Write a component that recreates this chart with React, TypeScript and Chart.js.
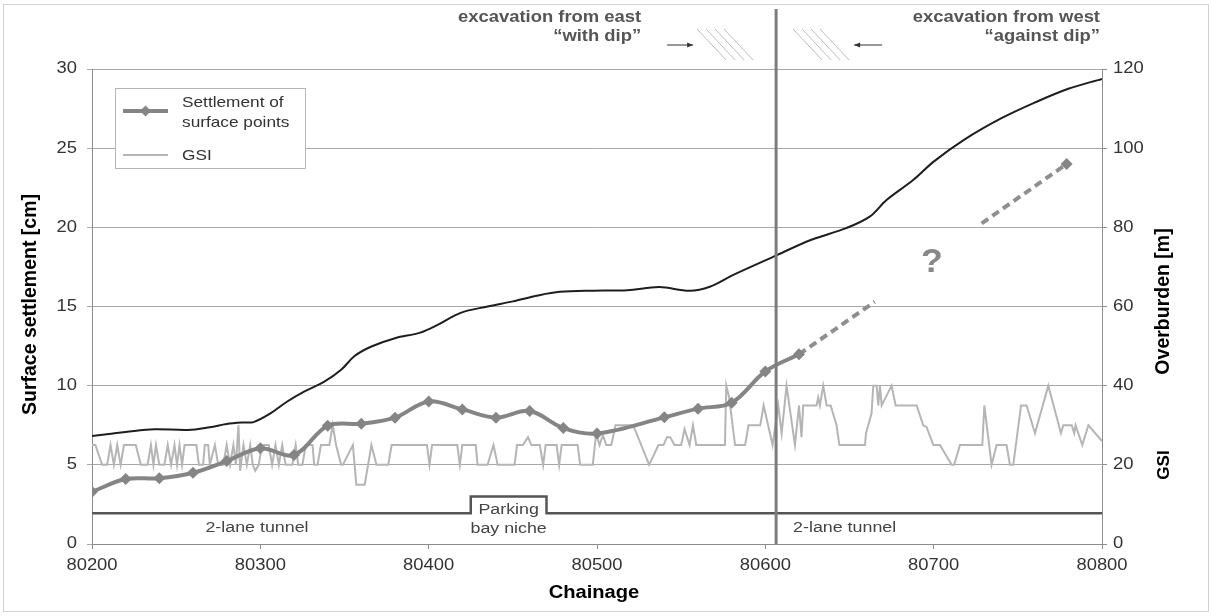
import React, { useEffect, useRef } from "react";
import { Chart, registerables } from "chart.js";

Chart.register(...registerables);

const FONT = "'Liberation Sans', Arial, Helvetica, sans-serif";
const SX = 1.15; // horizontal stretch of the reference's lettering

// ---------- data ----------
const chainageTicks = [80200, 80300, 80400, 80500, 80600, 80700, 80800];
const settlementTicks = [0, 5, 10, 15, 20, 25, 30];
const overburdenTicks = [0, 20, 40, 60, 80, 100, 120];

const settlementChainage = [
  80200, 80220, 80240, 80260, 80280, 80300, 80320, 80340, 80360, 80380, 80400,
  80420, 80440, 80460, 80480, 80500, 80540, 80560, 80580, 80600, 80620,
];
const settlementValues = [
  3.3, 4.1, 4.15, 4.5, 5.24, 6.05, 5.62, 7.47, 7.6, 7.98, 9.0, 8.5, 7.98, 8.4,
  7.32, 6.98, 8.0, 8.55, 8.92, 10.9, 11.98,
];

const trendNearChainage = [80620, 80665];
const trendNearValues = [11.98, 15.3];
const trendFarChainage = [80728.5, 80779];
const trendFarValues = [20.25, 24.0];

const overburdenChainage = [
  80200, 80210, 80220, 80237, 80257, 80270, 80280, 80290, 80296, 80306, 80316,
  80326, 80338, 80348, 80356, 80366, 80380, 80395, 80405, 80419, 80435, 80450,
  80465, 80478, 80498, 80518, 80537, 80555, 80567, 80581, 80607, 80627, 80648,
  80662, 80672, 80688, 80700, 80718, 80740, 80760, 80780, 80800,
];
const overburdenValues = [
  27.3, 27.8, 28.3, 29.0, 28.8, 29.5, 30.3, 30.7, 30.8, 33.0, 36.0, 38.5, 41.0,
  44.0, 47.5, 49.9, 52.0, 53.4, 55.3, 58.4, 60.0, 61.3, 62.8, 63.7, 64.0, 64.1,
  64.9, 64.0, 65.0, 68.0, 73.0, 76.8, 79.8, 82.7, 86.9, 92.0, 96.6, 102.1,
  107.5, 111.5, 115.0, 117.5,
];

const gsiChainage = [
  80200, 80202, 80206, 80209, 80211, 80213, 80215, 80217, 80219, 80226, 80229,
  80233, 80235, 80236.5, 80238, 80240, 80243, 80245, 80247, 80249, 80250.5,
  80252, 80253.5, 80255, 80262, 80263.5, 80266, 80267, 80269, 80270, 80273,
  80275, 80278, 80280, 80282, 80284, 80285.5, 80287, 80288, 80290, 80292,
  80294, 80295.5, 80297, 80299, 80301, 80305, 80307, 80309, 80311, 80313,
  80315, 80319, 80321, 80322.5, 80325, 80327, 80331, 80332, 80334, 80336,
  80341, 80343, 80345, 80348, 80349, 80355, 80357, 80362, 80366, 80369, 80376,
  80378, 80399, 80400.5, 80402, 80417, 80418.5, 80420, 80428, 80429, 80435,
  80438.5, 80441, 80451, 80452.5, 80456, 80459, 80461, 80466, 80468, 80469.5,
  80476, 80477.5, 80479, 80488.5, 80490, 80497.5, 80499.5, 80501.5, 80503.5,
  80505.5, 80508.5, 80511, 80521.5, 80531, 80536.5, 80539.5, 80541.5, 80543.5,
  80546, 80550, 80552, 80555, 80557, 80559, 80576, 80576.8, 80578.5, 80582,
  80588, 80590, 80597, 80599, 80604.3, 80607.7, 80609.7, 80612.6, 80617.6,
  80620, 80621.5, 80622.5, 80630.4, 80631.4, 80632.4, 80634.4, 80636.4,
  80638.8, 80642.3, 80644, 80659.2, 80659.8, 80663.1, 80664.1, 80666.1,
  80667.1, 80668.1, 80669.1, 80675, 80677.4, 80689.9, 80693.8, 80695.8,
  80699.8, 80703.7, 80710.7, 80712.2, 80715.6, 80728.9, 80730.1, 80734.4,
  80737.4, 80743.3, 80745.3, 80747.3, 80751.9, 80755.2, 80760.2, 80768.1,
  80775.6, 80777, 80782, 80783.5, 80784.3, 80788.3, 80791.9, 80800,
];
const gsiValues = [
  25, 25, 20, 20, 25, 20, 25, 20, 25, 25, 20,
  20, 25, 20, 25, 20, 20, 25, 20, 25, 20,
  25, 20, 25, 25, 20, 20, 25, 25, 20, 25,
  20, 20, 25, 20, 25, 20, 30, 18.5, 25, 20,
  25, 20, 18.5, 20, 25, 25, 20, 25, 20, 25,
  20, 20, 25, 20, 20, 25, 25, 20, 20, 25,
  25, 30, 25, 20, 20, 25, 15, 15, 25, 20, 20,
  25, 25, 20, 25, 25, 20, 25, 25, 20, 20,
  25, 20, 20, 25, 25, 27, 25, 25, 20, 25,
  25, 20, 25, 25, 20, 20, 28, 25, 27.5,
  25, 25, 30, 30, 20, 25, 25, 27, 27,
  25, 25, 29, 25, 30, 25, 25, 40, 37, 25,
  25, 30, 30, 35, 25, 35, 28, 40, 25,
  35, 27, 35, 35, 37, 35, 40, 35,
  35, 30, 25, 25, 28, 33, 40, 40,
  35, 40, 35, 40, 35, 35, 30, 29.5,
  25, 25, 20, 20, 25, 25, 35, 20,
  25, 25, 20, 20, 35, 35, 28, 40,
  28, 30, 30, 28, 30, 25, 30, 26,
];

const tunnelChainage = [80200, 80425, 80425, 80470, 80470, 80800];
const tunnelValues = [1.95, 1.95, 3.0, 3.0, 1.95, 1.95];

const dividerChainage = 80606.4;

const legendLabels = [["Settlement of", "surface points"], ["GSI"]];
const topLeftText = ["excavation from east", "\u201Cwith dip\u201D"];
const topRightText = ["excavation from west", "\u201Cagainst dip\u201D"];
const axisTitles = {
  x: "Chainage",
  left: "Surface settlement [cm]",
  right: "Overburden [m]",
  right2: "GSI",
};

const zip = (xs: number[], ys: number[]) => xs.map((x, i) => ({ x, y: ys[i] }));

function txt(
  ctx: CanvasRenderingContext2D,
  text: string,
  x: number,
  y: number,
  align: CanvasTextAlign,
  font: string,
  color: string,
  rotate = 0,
  sx = SX
) {
  ctx.save();
  ctx.font = font;
  ctx.fillStyle = color;
  ctx.textAlign = align;
  ctx.textBaseline = "middle";
  ctx.translate(x, y);
  ctx.scale(sx, 1);
  if (rotate) ctx.rotate(rotate);
  ctx.fillText(text, 0, 0);
  ctx.restore();
}

// ---------- overlay plugin ----------
const overlayPlugin = {
  id: "overlay",
  beforeDraw(chart: any) {
    const { ctx, width, height } = chart;
    ctx.save();
    ctx.fillStyle = "#ffffff";
    ctx.fillRect(0, 0, width, height);
    ctx.strokeStyle = "#d2d2d2";
    ctx.lineWidth = 1;
    ctx.strokeRect(3.5, 4.5, width - 7, height - 9);
    ctx.restore();
  },
  afterDraw(chart: any) {
    const { ctx, chartArea, scales } = chart;
    const xs = scales.x;
    const yl = scales.y;
    const yr = scales.y2;
    ctx.save();

    // tick labels
    const tickFont = `16px ${FONT}`;
    chainageTicks.forEach((v) =>
      txt(ctx, String(v), xs.getPixelForValue(v), chartArea.bottom + 22, "center", tickFont, "#333")
    );
    settlementTicks.forEach((v) =>
      txt(ctx, String(v), chartArea.left - 15, yl.getPixelForValue(v), "right", tickFont, "#333")
    );
    overburdenTicks.forEach((v) =>
      txt(ctx, String(v), chartArea.right + 11, yr.getPixelForValue(v), "left", tickFont, "#333")
    );

    // axis titles
    const titleFont = `bold 17.5px ${FONT}`;
    const midY = (chartArea.top + chartArea.bottom) / 2;
    txt(ctx, axisTitles.x, 594, chartArea.bottom + 49, "center", titleFont, "#000");
    txt(ctx, axisTitles.left, 31, midY - 2, "center", `bold 19.5px ${FONT}`, "#000", -Math.PI / 2, 1);
    txt(ctx, axisTitles.right, chartArea.right + 62, midY - 5, "center", `bold 19.5px ${FONT}`, "#000", -Math.PI / 2, 1);
    txt(ctx, axisTitles.right2, chartArea.right + 62, 465, "center", `bold 17px ${FONT}`, "#000", -Math.PI / 2, 1);

    // divider line
    const dx = xs.getPixelForValue(dividerChainage);
    ctx.strokeStyle = "#7d7d7d";
    ctx.lineWidth = 3;
    ctx.beginPath();
    ctx.moveTo(dx, 9);
    ctx.lineTo(dx, chartArea.bottom);
    ctx.stroke();

    // top annotations
    const annFont = `bold 16px ${FONT}`;
    txt(ctx, topLeftText[0], dx - 135, 18, "right", annFont, "#555");
    txt(ctx, topLeftText[1], dx - 135, 37, "right", annFont, "#555");
    txt(ctx, topRightText[0], chartArea.right - 2, 18, "right", annFont, "#555");
    txt(ctx, topRightText[1], chartArea.right - 2, 37, "right", annFont, "#555");

    // arrows
    ctx.strokeStyle = "#333";
    ctx.fillStyle = "#333";
    ctx.lineWidth = 1;
    const arrow = (x1: number, x2: number, y: number) => {
      ctx.beginPath();
      ctx.moveTo(x1, y);
      ctx.lineTo(x2, y);
      ctx.stroke();
      const dir = Math.sign(x2 - x1);
      ctx.beginPath();
      ctx.moveTo(x2, y);
      ctx.lineTo(x2 - dir * 6, y - 2.5);
      ctx.lineTo(x2 - dir * 6, y + 2.5);
      ctx.closePath();
      ctx.fill();
    };
    arrow(dx - 109, dx - 83, 45);
    arrow(dx + 106, dx + 78, 45);

    // hatch marks
    ctx.strokeStyle = "#bdbdbd";
    ctx.lineWidth = 1;
    const hatch = (x0: number) => {
      for (let i = 0; i < 4; i++) {
        ctx.beginPath();
        ctx.moveTo(x0 + i * 9, 29);
        ctx.lineTo(x0 + i * 9 + 29, 60);
        ctx.stroke();
      }
    };
    hatch(dx - 79);
    hatch(dx + 17);

    // tunnel labels
    const tunFont = `15.5px ${FONT}`;
    txt(ctx, "2-lane tunnel", xs.getPixelForValue(80298), yl.getPixelForValue(1.05), "center", tunFont, "#444");
    txt(ctx, "Parking", xs.getPixelForValue(80447.5), yl.getPixelForValue(2.15), "center", tunFont, "#444");
    txt(ctx, "bay niche", xs.getPixelForValue(80447.5), yl.getPixelForValue(0.95), "center", tunFont, "#444");
    txt(ctx, "2-lane tunnel", dx + 17, yl.getPixelForValue(1.05), "left", tunFont, "#444");

    // question mark
    txt(ctx, "?", xs.getPixelForValue(80699), yl.getPixelForValue(17.8), "center", `bold 34px ${FONT}`, "#888", 0, 1.05);

    // legend
    const lx = chartArea.left + 23;
    const ly = chartArea.top + 19;
    ctx.fillStyle = "#fff";
    ctx.fillRect(lx + 0.5, ly + 0.5, 190, 80);
    ctx.strokeStyle = "#b5b5b5";
    ctx.lineWidth = 1;
    ctx.strokeRect(lx + 0.5, ly + 0.5, 190, 80);
    ctx.strokeStyle = "#858585";
    ctx.lineWidth = 4;
    ctx.beginPath();
    ctx.moveTo(lx + 8, ly + 23);
    ctx.lineTo(lx + 53, ly + 23);
    ctx.stroke();
    ctx.fillStyle = "#858585";
    ctx.beginPath();
    ctx.moveTo(lx + 30.5, ly + 17.5);
    ctx.lineTo(lx + 36, ly + 23);
    ctx.lineTo(lx + 30.5, ly + 28.5);
    ctx.lineTo(lx + 25, ly + 23);
    ctx.closePath();
    ctx.fill();
    ctx.strokeStyle = "#b5b5b5";
    ctx.lineWidth = 2;
    ctx.beginPath();
    ctx.moveTo(lx + 8, ly + 67);
    ctx.lineTo(lx + 53, ly + 67);
    ctx.stroke();
    const legFont = `15px ${FONT}`;
    txt(ctx, legendLabels[0][0], lx + 67, ly + 15, "left", legFont, "#333");
    txt(ctx, legendLabels[0][1], lx + 67, ly + 35, "left", legFont, "#333");
    txt(ctx, legendLabels[1][0], lx + 67, ly + 68, "left", legFont, "#333");

    ctx.restore();
  },
};

export default function App() {
  const canvasRef = useRef<HTMLCanvasElement | null>(null);

  useEffect(() => {
    const canvas = canvasRef.current;
    if (!canvas) return;
    const chart = new Chart(canvas, {
      type: "line",
      data: {
        datasets: [
          {
            label: "Settlement of surface points",
            data: zip(settlementChainage, settlementValues),
            yAxisID: "y",
            borderColor: "#858585",
            backgroundColor: "#858585",
            borderWidth: 4,
            tension: 0.35,
            pointStyle: "rectRot",
            pointRadius: 6,
            pointBorderWidth: 0,
            order: 0,
          },
          {
            label: "trend near",
            data: zip(trendNearChainage, trendNearValues),
            yAxisID: "y",
            borderColor: "#8f8f8f",
            borderWidth: 4,
            borderDash: [8, 5],
            pointRadius: 0,
            order: 1,
          },
          {
            label: "trend far",
            data: zip(trendFarChainage, trendFarValues),
            yAxisID: "y",
            borderColor: "#8f8f8f",
            backgroundColor: "#858585",
            borderWidth: 4,
            borderDash: [8, 5],
            pointStyle: "rectRot",
            pointRadius: [0, 6],
            pointBorderWidth: 0,
            order: 1,
          },
          {
            label: "Overburden",
            data: zip(overburdenChainage, overburdenValues),
            yAxisID: "y2",
            borderColor: "#1e1e1e",
            borderWidth: 2,
            tension: 0.35,
            pointRadius: 0,
            order: 2,
          },
          {
            label: "Tunnel",
            data: zip(tunnelChainage, tunnelValues),
            yAxisID: "y",
            borderColor: "#555555",
            borderWidth: 2.5,
            tension: 0,
            pointRadius: 0,
            order: 3,
          },
          {
            label: "GSI",
            data: zip(gsiChainage, gsiValues),
            yAxisID: "y2",
            borderColor: "#b5b5b5",
            borderWidth: 2,
            tension: 0,
            pointRadius: 0,
            order: 4,
          },
        ],
      },
      options: {
        animation: false,
        responsive: false,
        maintainAspectRatio: false,
        layout: { padding: { top: 69, left: 0, right: 0, bottom: 0 } },
        plugins: {
          legend: { display: false },
          tooltip: { enabled: false },
        },
        scales: {
          x: {
            type: "linear",
            min: 80200,
            max: 80800,
            afterBuildTicks: (s: any) => {
              s.ticks = chainageTicks.map((v) => ({ value: v }));
            },
            afterFit: (s: any) => {
              s.height = 72;
            },
            grid: { drawOnChartArea: false, tickLength: 5, color: "#8c8c8c" },
            border: { color: "#8c8c8c", width: 1 },
            ticks: { display: false },
          },
          y: {
            position: "left",
            min: 0,
            max: 30,
            afterBuildTicks: (s: any) => {
              s.ticks = settlementTicks.map((v) => ({ value: v }));
            },
            afterFit: (s: any) => {
              s.width = 92;
            },
            grid: { color: "#a8a8a8", tickLength: 5 },
            border: { color: "#8c8c8c", width: 1 },
            ticks: { display: false },
          },
          y2: {
            position: "right",
            min: 0,
            max: 120,
            afterBuildTicks: (s: any) => {
              s.ticks = overburdenTicks.map((v) => ({ value: v }));
            },
            afterFit: (s: any) => {
              s.width = 110;
            },
            grid: { drawOnChartArea: false, tickLength: 5, color: "#8c8c8c" },
            border: { color: "#8c8c8c", width: 1 },
            ticks: { display: false },
          },
        },
      },
      plugins: [overlayPlugin],
    });
    return () => chart.destroy();
  }, []);

  return (
    <div style={{ position: "absolute", left: 0, top: 0, width: 1212, height: 616 }}>
      <canvas ref={canvasRef} width={1212} height={616} style={{ width: 1212, height: 616, display: "block" }} />
    </div>
  );
}
